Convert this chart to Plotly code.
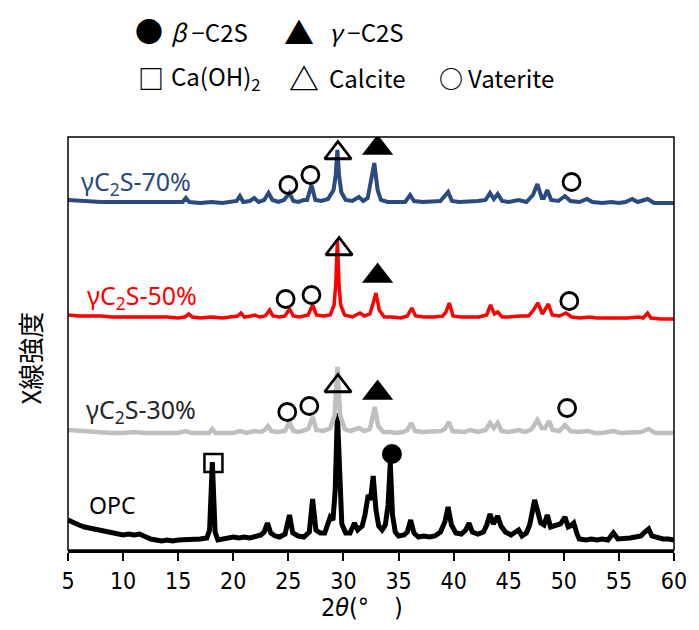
import plotly.graph_objects as go

# ---- XRD patterns (2θ in degrees, stacked intensity in arbitrary units) ----
opc_2theta = [5.0, 5.5, 6.0, 6.5, 7.0, 7.5, 8.0, 8.5, 9.0, 9.5, 10.0, 10.5, 11.0, 11.5, 12.0, 12.5, 13.0, 13.5,
              14.0, 14.5, 15.0, 15.5, 16.0, 16.5, 17.0, 17.6, 17.85, 18.1, 18.35, 18.6, 19.0, 19.5, 20.0, 20.5,
              21.0, 21.5, 22.0, 22.5, 22.8, 23.1, 23.4, 23.8, 24.2, 24.7, 25.1, 25.4, 25.9, 26.4, 26.9, 27.2,
              27.5, 27.9, 28.3, 28.6, 28.8, 29.05, 29.25, 29.45, 29.65, 29.85, 30.2, 30.6, 31.0, 31.3, 31.7,
              31.95, 32.25, 32.45, 32.7, 32.95, 33.2, 33.5, 33.8, 34.05, 34.25, 34.45, 34.7, 35.0, 35.5, 35.8,
              36.1, 36.4, 36.8, 37.3, 37.8, 38.3, 38.8, 39.2, 39.5, 39.8, 40.2, 40.7, 41.1, 41.4, 41.7, 42.2,
              42.7, 43.0, 43.3, 43.6, 44.0, 44.3, 44.7, 45.2, 45.6, 45.9, 46.2, 46.6, 46.9, 47.35, 47.6, 47.9,
              48.2, 48.5, 48.8, 49.2, 49.7, 50.1, 50.4, 50.6, 50.9, 51.2, 51.4, 52.0, 52.5, 53.0, 53.5, 54.0,
              54.5, 54.9, 55.5, 56.0, 56.5, 57.0, 57.35, 57.7, 58.0, 58.5, 59.0, 59.5, 60.0]
opc_int = [30, 27, 25, 23, 22, 20, 20, 18, 17, 17, 15, 16, 15, 16, 13, 11, 10, 9,
           10, 9, 10, 10, 11, 10, 11, 12, 20, 88, 18, 10, 11, 12, 13, 12,
           13, 12, 14, 15, 18, 27, 17, 14, 13, 16, 35, 17, 14, 13, 18, 51,
           20, 17, 17, 25, 33, 30, 60, 137, 60, 26, 17, 17, 27, 20, 24,
           35, 55, 50, 74, 40, 24, 20, 25, 45, 87, 35, 18, 14, 15, 18,
           30, 17, 13, 14, 13, 14, 18, 28, 43, 25, 17, 16, 20, 27, 18, 16,
           18, 25, 36, 26, 34, 24, 18, 15, 18, 20, 14, 17, 25, 50, 40, 27,
           25, 35, 23, 24, 26, 33, 23, 24, 27, 16, 11, 10, 11, 10, 11, 10,
           17, 11, 11, 12, 13, 14, 18, 21, 14, 12, 11, 11, 10]

g30_2theta = [5.0, 6.0, 7.0, 8.0, 9.0, 10.0, 11.0, 12.0, 13.0, 14.0, 15.0, 15.7, 16.2, 17.0, 17.8, 18.1, 18.4,
              19.0, 20.0, 20.6, 21.2, 21.9, 22.5, 22.85, 23.15, 23.45, 24.0, 24.7, 25.1, 25.45, 26.0, 26.8,
              27.2, 27.55, 28.2, 28.8, 29.2, 29.45, 29.7, 30.1, 30.6, 31.4, 31.9, 32.4, 32.55, 32.85, 33.15,
              33.6, 34.2, 34.8, 35.4, 35.8, 36.15, 36.5, 37.2, 38.0, 38.8, 39.2, 39.55, 39.9, 40.5, 41.0, 41.5,
              42.2, 42.9, 43.3, 43.65, 44.0, 44.35, 45.0, 45.9, 46.5, 47.1, 47.6, 48.0, 48.3, 48.65, 49.0, 49.6,
              50.1, 50.6, 51.3, 52.2, 52.8, 53.5, 54.5, 55.2, 56.2, 57.0, 57.7, 58.3, 59.0, 60.0]
g30_int = [120, 119, 118, 118, 117, 117, 118, 117, 117, 117, 117, 119, 117, 117, 117, 121, 117,
           117, 117, 119, 117, 119, 118, 120, 124, 119, 118, 119, 128, 119, 118, 121,
           133, 120, 119, 122, 135, 183, 135, 121, 119, 122, 119, 121, 128, 143, 124,
           118, 118, 117, 118, 120, 127, 119, 118, 118, 119, 121, 128, 119, 118, 118, 120,
           118, 120, 127, 122, 127, 119, 118, 120, 118, 121, 130, 122, 122, 129, 120, 119,
           125, 119, 118, 119, 117, 117, 119, 117, 118, 118, 121, 117, 117, 117]

g50_2theta = [5.0, 6.0, 7.0, 8.0, 9.0, 10.0, 11.0, 12.0, 13.0, 14.0, 15.0, 15.6, 15.95, 16.3, 17.0, 18.0,
              19.0, 20.0, 20.4, 20.7, 21.0, 21.6, 21.95, 22.4, 22.9, 23.3, 23.6, 24.2, 24.7, 25.1, 25.45,
              26.0, 26.8, 27.2, 27.55, 28.2, 28.8, 29.15, 29.3, 29.45, 29.6, 29.75, 30.1, 30.8, 31.5, 31.9,
              32.4, 32.65, 32.95, 33.25, 33.7, 34.4, 35.2, 35.8, 36.2, 36.55, 37.3, 38.2, 39.0, 39.3, 39.6,
              39.95, 40.6, 41.5, 42.3, 43.0, 43.35, 43.7, 44.0, 44.4, 45.0, 46.0, 46.8, 47.25, 47.65, 48.05,
              48.3, 48.6, 48.95, 49.6, 50.2, 50.7, 51.5, 52.3, 53.0, 54.0, 55.0, 55.8, 56.8, 57.2, 57.6,
              57.9, 58.8, 60.0]
g50_int = [235, 234, 234, 234, 233, 233, 233, 233, 233, 233, 232, 233, 236, 233, 232, 233,
           232, 233, 234, 237, 233, 234, 235, 233, 234, 240, 234, 233, 234, 241, 234,
           233, 235, 245, 235, 234, 235, 245, 265, 310, 265, 245, 235, 233, 237, 234,
           236, 245, 257, 240, 233, 233, 232, 234, 242, 234, 233, 233, 234, 238, 247,
           234, 233, 233, 233, 235, 245, 236, 238, 233, 233, 234, 234, 240, 247, 236,
           240, 246, 235, 234, 237, 233, 232, 233, 232, 232, 232, 232, 233, 232, 237,
           232, 231, 231]

g70_2theta = [5.0, 6.0, 7.0, 8.0, 9.0, 10.0, 11.0, 12.0, 13.0, 14.0, 15.0, 15.4, 15.7, 16.0, 17.0, 18.0,
              19.0, 20.0, 20.3, 20.6, 20.9, 21.5, 21.9, 22.3, 22.8, 23.2, 23.55, 24.1, 24.6, 25.1, 25.45,
              25.9, 26.4, 26.7, 27.1, 27.45, 28.0, 28.6, 29.1, 29.3, 29.45, 29.6, 29.8, 30.2, 30.8, 31.4,
              31.8, 32.2, 32.5, 32.8, 33.1, 33.4, 34.0, 34.8, 35.6, 36.05, 36.4, 37.2, 38.0, 38.8, 39.5,
              39.85, 40.5, 41.5, 42.2, 42.9, 43.3, 43.65, 44.0, 44.4, 45.0, 45.9, 46.6, 47.2, 47.6, 48.0,
              48.2, 48.5, 48.85, 49.5, 50.1, 50.6, 51.4, 52.1, 52.6, 53.5, 54.3, 55.0, 55.6, 56.2, 56.7,
              57.6, 58.2, 59.0, 60.0]
g70_int = [350, 349, 349, 348, 348, 348, 348, 348, 348, 348, 348, 348, 352, 348, 347, 348,
           347, 348, 349, 354, 348, 349, 352, 348, 350, 357, 350, 348, 350, 357, 349,
           348, 350, 350, 365, 350, 349, 351, 360, 375, 400, 375, 358, 350, 349, 353,
           349, 352, 370, 387, 360, 350, 348, 348, 348, 355, 349, 348, 348, 349, 358,
           349, 348, 348, 349, 350, 357, 351, 356, 349, 348, 350, 348, 355, 366, 352,
           352, 360, 350, 349, 354, 349, 348, 351, 348, 347, 348, 347, 348, 351, 348,
           351, 347, 347, 347]

# ---- phase identification markers (2θ, stacked intensity) ----
caoh2_x, caoh2_y = [18.2], [87]
beta_x, beta_y = [34.4], [96]
gamma_x = [33.1, 33.1, 33.1]
gamma_y = [157, 274, 402]
calcite_x = [29.5, 29.6, 29.5]
calcite_y = [164, 301, 397]
vaterite_x = [24.9, 26.9, 50.3, 24.75, 27.1, 50.5, 25.0, 27.0, 50.7]
vaterite_y = [138, 144, 142, 251, 255, 249, 365, 375, 368]

series = [
    ("OPC", opc_2theta, opc_int, "#000000", 5.0),
    ("γC2S-30%", g30_2theta, g30_int, "#BFBFBF", 4.5),
    ("γC2S-50%", g50_2theta, g50_int, "#FF0000", 3.5),
    ("γC2S-70%", g70_2theta, g70_int, "#2A4A80", 4.0),
]

fig = go.Figure()
for name, x, y, color, w in series:
    fig.add_trace(go.Scatter(x=x, y=y, mode="lines", name=name,
                             line=dict(color=color, width=w), showlegend=False))


def add_markers(x, y, symbol, size, fill="black", lw=2.5):
    fig.add_trace(go.Scatter(
        x=x, y=y, mode="markers", showlegend=False,
        marker=dict(symbol=symbol, size=size, color=fill,
                    line=dict(color="black", width=lw))))


add_markers(caoh2_x, caoh2_y, "square-open", 18)
add_markers(beta_x, beta_y, "circle", 20, lw=0)
add_markers(gamma_x, gamma_y, "triangle-up", 27, lw=0)
add_markers(calcite_x, calcite_y, "triangle-up-open", 23, lw=2.8)
add_markers(vaterite_x, vaterite_y, "circle-open", 17, lw=2.8)

# ---- layout ----
W, H = 699, 630
L, R, T, B = 68, 16, 137, 80
pw, ph = W - L - R, H - T - B


def px(xp):
    return (xp - L) / pw


def py(yp):
    return (H - B - yp) / ph


jp = "Noto Sans CJK JP"
narrow = "DejaVu Sans Condensed, Liberation Sans Narrow, Liberation Sans"
ann = []

# series labels
for text, xp, yp, color, fs in [
    ("γC<sub>2</sub>S-70%", 79, 182, "#2A4A80", 25),
    ("γC<sub>2</sub>S-50%", 85, 296, "#FF0000", 25),
    ("γC<sub>2</sub>S-30%", 84, 410, "#262626", 25),
    ("OPC", 87, 505, "#000000", 23),
]:
    ann.append(dict(text=text, x=px(xp), y=py(yp), xref="paper", yref="paper",
                    xanchor="left", yanchor="middle", showarrow=False,
                    font=dict(family="Noto Sans", size=fs, color=color)))

# phase key above the plot
for glyph, gx, gs, label, lx, yp in [
    ("●", 150, 28, "<i>β</i> −C2S", 170, 31),
    ("▲", 302, 30, "<i>γ</i> −C2S", 331, 31),
    ("□", 152, 26, "Ca(OH)<sub>2</sub>", 170, 77),
    ("△", 308, 30, "Calcite", 331, 77),
    ("○", 457, 24, "Vaterite", 472, 77),
]:
    ann.append(dict(text="<b>" + glyph + "</b>", x=px(gx), y=py(yp), xref="paper", yref="paper",
                    xanchor="center", yanchor="middle", showarrow=False,
                    font=dict(family=jp, size=gs, color="black")))
    ann.append(dict(text=label, x=px(lx), y=py(yp), xref="paper", yref="paper",
                    xanchor="left", yanchor="middle", showarrow=False,
                    font=dict(family=jp, size=24, color="black")))

# axis titles
ann.append(dict(text="X線強度", x=px(28), y=py(358), xref="paper", yref="paper",
                xanchor="center", yanchor="middle", textangle=-90, showarrow=False,
                font=dict(family=jp, size=26, color="black")))
ann.append(dict(text="2<i>θ</i>(°　)", x=px(366), y=py(607), xref="paper", yref="paper",
                xanchor="center", yanchor="middle", showarrow=False,
                font=dict(family=narrow, size=25, color="black")))

fig.update_layout(
    width=W, height=H,
    margin=dict(l=L, r=R, t=T, b=B, pad=0),
    paper_bgcolor="white", plot_bgcolor="white",
    annotations=ann,
    shapes=[dict(type="rect", xref="paper", yref="paper", x0=0, y0=0, x1=1, y1=1,
                 line=dict(color="black", width=1.5), layer="above")],
    xaxis=dict(range=[5, 60], tickmode="linear", tick0=5, dtick=5,
               showgrid=False, zeroline=False,
               showline=True, linecolor="black", linewidth=3,
               ticks="outside", ticklen=8, tickwidth=2, tickcolor="black",
               tickfont=dict(family=narrow, size=23, color="black")),
    yaxis=dict(range=[0, 413], showgrid=False, zeroline=False, showticklabels=False,
               ticks="", showline=False),
)

fig.write_html("out.html")
